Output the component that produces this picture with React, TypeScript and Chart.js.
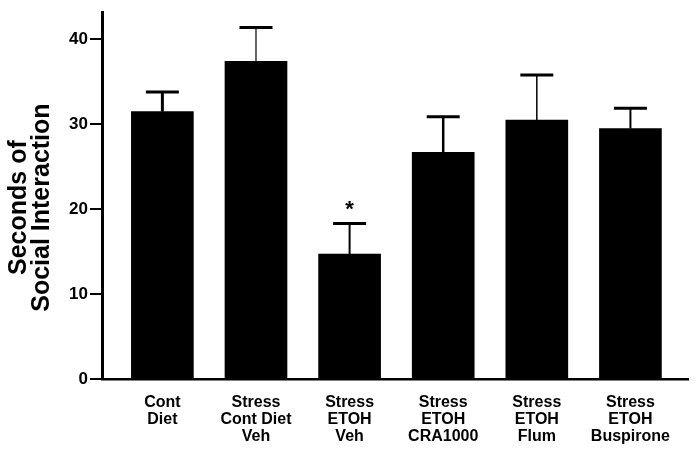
import React, { useEffect, useRef } from "react";
import { Chart, registerables } from "chart.js";

Chart.register(...registerables);

const categories: string[][] = [
  ["Cont", "Diet"],
  ["Stress", "Cont Diet", "Veh"],
  ["Stress", "ETOH", "Veh"],
  ["Stress", "ETOH", "CRA1000"],
  ["Stress", "ETOH", "Flum"],
  ["Stress", "ETOH", "Buspirone"],
];
const means = [31.5, 37.4, 14.7, 26.7, 30.5, 29.5];
const errUpper = [33.8, 41.4, 18.3, 30.9, 35.8, 31.9];
const errLineWidths = [3, 1.2, 2, 2.5, 1.5, 2];
const significance = ["", "", "*", "", "", ""];
const yTicks = [0, 10, 20, 30, 40];
const yTitle = ["Seconds of", "Social Interaction"];

const FONT = "'Liberation Sans', Arial, Helvetica, sans-serif";

export default function App() {
  const ref = useRef<HTMLCanvasElement | null>(null);

  useEffect(() => {
    if (!ref.current) return;

    const errorBarPlugin = {
      id: "errorBars",
      afterDatasetsDraw(chart: any) {
        const ctx = chart.ctx;
        const xs = chart.scales.x;
        const ys = chart.scales.y;
        ctx.save();
        ctx.strokeStyle = "#000";
        ctx.fillStyle = "#000";
        means.forEach((m, i) => {
          const x = xs.getPixelForValue(i);
          const y0 = ys.getPixelForValue(m);
          const y1 = ys.getPixelForValue(errUpper[i]);
          ctx.lineWidth = errLineWidths[i];
          ctx.beginPath();
          ctx.moveTo(x, y0);
          ctx.lineTo(x, y1);
          ctx.stroke();
          ctx.lineWidth = 3;
          ctx.beginPath();
          ctx.moveTo(x - 16.5, y1);
          ctx.lineTo(x + 16.5, y1);
          ctx.stroke();
          if (significance[i]) {
            ctx.font = `bold 22px ${FONT}`;
            ctx.textAlign = "center";
            ctx.textBaseline = "middle";
            ctx.fillText(significance[i], x, y1 - 14);
          }
        });
        ctx.restore();
      },
    };

    const titlePlugin = {
      id: "yTitle",
      afterDraw(chart: any) {
        const ctx = chart.ctx;
        const ys = chart.scales.y;
        ctx.save();
        ctx.translate(19, (ys.top + ys.bottom) / 2 + 12);
        ctx.rotate(-Math.PI / 2);
        ctx.font = `bold 25px ${FONT}`;
        ctx.fillStyle = "#000";
        ctx.textAlign = "center";
        ctx.textBaseline = "middle";
        yTitle.forEach((t, i) => ctx.fillText(t, 0, i * 23));
        ctx.restore();
      },
    };

    const chart = new Chart(ref.current, {
      type: "bar",
      data: {
        datasets: [
          {
            data: means.map((v, i) => ({ x: i, y: v })),
            backgroundColor: "#000",
            borderWidth: 0,
            barThickness: 62,
          },
        ],
      },
      options: {
        animation: false,
        responsive: false,
        layout: { padding: { top: 10, right: 9, left: 0, bottom: 0 } },
        plugins: {
          legend: { display: false },
          tooltip: { enabled: false },
        },
        scales: {
          x: {
            type: "linear",
            offset: false,
            min: -0.645,
            max: 5.615,
            afterBuildTicks: (s: any) => {
              s.ticks = categories.map((_, i) => ({ value: i }));
            },
            afterFit: (s: any) => {
              s.height = 72;
            },
            grid: { display: false },
            border: { display: true, color: "#000", width: 2.5 },
            ticks: {
              autoSkip: false,
              maxRotation: 0,
              padding: 7,
              color: "#000",
              font: { family: FONT, size: 16, weight: "bold", lineHeight: 1.06 },
              callback: (v: any) => categories[v as number] ?? "",
            },
          },
          y: {
            min: 0,
            max: 43.2,
            afterBuildTicks: (s: any) => {
              s.ticks = yTicks.map((v) => ({ value: v }));
            },
            afterFit: (s: any) => {
              s.width = 102;
            },
            grid: {
              drawOnChartArea: false,
              drawTicks: true,
              tickLength: 12,
              color: "#000",
              lineWidth: 2,
            },
            border: { display: true, color: "#000", width: 3 },
            ticks: {
              padding: 2,
              color: "#000",
              font: { family: FONT, size: 17, weight: "bold" },
            },
          },
        },
      },
      plugins: [errorBarPlugin, titlePlugin],
    });

    return () => chart.destroy();
  }, []);

  return (
    <div style={{ position: "absolute", left: 0, top: 0, width: 697, height: 451, background: "#fff" }}>
      <canvas ref={ref} width={697} height={451} />
    </div>
  );
}
